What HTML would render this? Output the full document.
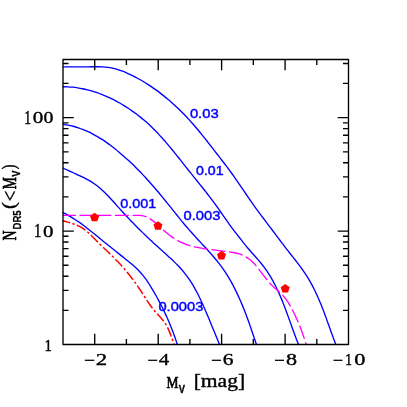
<!DOCTYPE html><html><head><meta charset="utf-8"><style>html,body{margin:0;padding:0;background:#fff}svg{display:block;will-change:transform;opacity:0.999}</style></head><body>
<svg width="407" height="407" viewBox="0 0 407 407">
<rect width="407" height="407" fill="#fff"/>
<g fill="none" stroke="#0000ff" stroke-width="1.35" stroke-linejoin="round">
<path d="M62.70,66.80 L88.00,66.81 C88.82,66.80 91.28,66.79 92.92,66.79 C94.56,66.78 96.20,66.76 97.84,66.79 C99.47,66.81 101.11,66.84 102.74,66.93 C104.36,67.02 105.99,67.14 107.60,67.35 C109.21,67.55 110.81,67.82 112.41,68.15 C114.00,68.49 115.58,68.91 117.14,69.38 C118.71,69.85 120.27,70.39 121.81,70.96 C123.36,71.53 124.89,72.16 126.41,72.82 C127.93,73.47 129.44,74.17 130.93,74.89 C132.43,75.60 133.91,76.36 135.38,77.13 C136.85,77.90 138.30,78.70 139.74,79.52 C141.18,80.33 142.60,81.17 144.02,82.02 C145.43,82.87 146.82,83.74 148.20,84.63 C149.58,85.52 150.95,86.43 152.30,87.35 C153.66,88.27 154.99,89.22 156.32,90.17 C157.64,91.13 158.96,92.10 160.25,93.09 C161.55,94.08 162.84,95.09 164.11,96.11 C165.38,97.13 166.64,98.16 167.89,99.22 C169.13,100.27 170.36,101.33 171.59,102.41 C172.81,103.49 174.01,104.59 175.21,105.70 C176.41,106.80 177.59,107.93 178.76,109.06 C179.93,110.19 181.09,111.34 182.24,112.50 C183.39,113.67 184.53,114.84 185.66,116.02 C186.78,117.21 187.90,118.41 189.00,119.62 C190.10,120.83 191.20,122.05 192.28,123.28 C193.36,124.51 194.44,125.75 195.50,127.00 C196.57,128.25 197.62,129.51 198.67,130.77 C199.72,132.04 200.77,133.31 201.80,134.59 C202.84,135.86 203.87,137.15 204.89,138.44 C205.92,139.72 206.93,141.02 207.95,142.31 C208.97,143.60 209.98,144.90 210.99,146.20 C212.00,147.50 213.00,148.80 214.01,150.10 C215.01,151.40 216.02,152.70 217.02,154.00 C218.02,155.29 219.03,156.59 220.03,157.88 C221.03,159.18 222.04,160.47 223.04,161.76 C224.03,163.05 225.03,164.35 226.02,165.65 C227.01,166.94 228.00,168.25 228.97,169.56 C229.94,170.87 230.90,172.19 231.86,173.52 C232.81,174.84 233.76,176.18 234.70,177.52 C235.63,178.86 236.57,180.20 237.49,181.55 C238.42,182.90 239.35,184.26 240.27,185.61 C241.19,186.96 242.11,188.32 243.03,189.68 C243.95,191.03 244.87,192.39 245.79,193.75 C246.71,195.10 247.64,196.46 248.56,197.81 C249.49,199.16 250.42,200.51 251.36,201.85 C252.30,203.20 253.25,204.54 254.20,205.87 C255.15,207.20 256.12,208.53 257.08,209.86 C258.05,211.18 259.02,212.50 259.99,213.81 C260.97,215.13 261.95,216.44 262.94,217.75 C263.92,219.06 264.91,220.37 265.89,221.68 C266.88,222.99 267.87,224.29 268.86,225.60 C269.85,226.90 270.85,228.20 271.83,229.51 C272.82,230.81 273.81,232.12 274.80,233.43 C275.79,234.74 276.77,236.05 277.75,237.35 C278.73,238.66 279.71,239.98 280.70,241.29 C281.68,242.59 282.66,243.90 283.66,245.21 C284.65,246.51 285.64,247.81 286.65,249.11 C287.65,250.40 288.67,251.69 289.68,252.97 C290.70,254.26 291.72,255.54 292.74,256.82 C293.76,258.11 294.78,259.39 295.79,260.68 C296.80,261.97 297.80,263.27 298.79,264.57 C299.78,265.88 300.76,267.19 301.71,268.52 C302.66,269.85 303.60,271.19 304.51,272.54 C305.42,273.90 306.31,275.28 307.17,276.67 C308.03,278.06 308.87,279.46 309.69,280.88 C310.50,282.30 311.30,283.74 312.07,285.18 C312.84,286.63 313.59,288.09 314.32,289.55 C315.05,291.02 315.76,292.50 316.45,293.99 C317.14,295.47 317.81,296.97 318.47,298.47 C319.13,299.98 319.76,301.49 320.39,303.00 C321.02,304.52 321.62,306.04 322.23,307.57 C322.83,309.09 323.41,310.63 323.99,312.16 C324.57,313.70 325.14,315.24 325.71,316.78 C326.28,318.32 326.83,319.86 327.39,321.41 C327.95,322.95 328.50,324.50 329.05,326.04 C329.60,327.59 330.15,329.13 330.71,330.68 C331.26,332.22 331.81,333.77 332.37,335.30 C332.93,336.84 333.49,338.38 334.06,339.91 C334.64,341.45 335.51,343.74 335.80,344.50"/>
<path d="M62.70,86.70 C63.54,86.72 66.06,86.74 67.73,86.82 C69.40,86.90 71.06,87.03 72.72,87.20 C74.38,87.38 76.03,87.59 77.68,87.84 C79.32,88.09 80.96,88.39 82.59,88.72 C84.22,89.05 85.84,89.42 87.45,89.83 C89.06,90.23 90.67,90.68 92.26,91.15 C93.86,91.63 95.44,92.14 97.01,92.68 C98.59,93.23 100.15,93.80 101.70,94.41 C103.25,95.01 104.79,95.65 106.32,96.32 C107.85,96.98 109.37,97.67 110.87,98.39 C112.37,99.11 113.86,99.86 115.34,100.63 C116.82,101.41 118.28,102.21 119.73,103.03 C121.18,103.85 122.61,104.70 124.04,105.57 C125.46,106.44 126.86,107.34 128.26,108.26 C129.65,109.18 131.03,110.12 132.39,111.08 C133.75,112.04 135.10,113.03 136.43,114.04 C137.76,115.04 139.07,116.07 140.37,117.11 C141.67,118.16 142.95,119.23 144.22,120.31 C145.48,121.39 146.73,122.50 147.96,123.62 C149.19,124.74 150.41,125.88 151.60,127.03 C152.80,128.18 153.98,129.35 155.15,130.54 C156.31,131.72 157.46,132.92 158.60,134.14 C159.74,135.35 160.86,136.58 161.97,137.81 C163.09,139.05 164.19,140.30 165.28,141.55 C166.37,142.81 167.45,144.08 168.52,145.35 C169.60,146.63 170.66,147.91 171.72,149.20 C172.78,150.48 173.83,151.78 174.88,153.08 C175.93,154.38 176.97,155.68 178.01,156.99 C179.05,158.29 180.08,159.60 181.12,160.91 C182.15,162.22 183.19,163.53 184.22,164.84 C185.26,166.15 186.29,167.46 187.33,168.77 C188.36,170.08 189.40,171.38 190.44,172.68 C191.48,173.99 192.53,175.29 193.57,176.58 C194.62,177.88 195.66,179.18 196.71,180.47 C197.75,181.77 198.79,183.07 199.84,184.37 C200.88,185.66 201.92,186.96 202.95,188.26 C203.99,189.57 205.02,190.87 206.05,192.18 C207.07,193.49 208.10,194.80 209.11,196.12 C210.12,197.44 211.13,198.76 212.13,200.09 C213.13,201.42 214.12,202.75 215.11,204.10 C216.09,205.44 217.06,206.80 218.03,208.15 C218.99,209.51 219.95,210.88 220.90,212.25 C221.86,213.61 222.81,214.99 223.76,216.35 C224.71,217.72 225.66,219.10 226.62,220.46 C227.58,221.83 228.55,223.19 229.52,224.55 C230.49,225.90 231.47,227.25 232.47,228.59 C233.47,229.93 234.48,231.26 235.50,232.58 C236.52,233.90 237.55,235.21 238.59,236.52 C239.62,237.83 240.65,239.14 241.69,240.44 C242.72,241.75 243.74,243.06 244.78,244.35 C245.82,245.65 246.86,246.94 247.92,248.21 C248.99,249.48 250.07,250.73 251.17,251.98 C252.26,253.22 253.39,254.44 254.50,255.68 C255.61,256.92 256.73,258.15 257.81,259.41 C258.90,260.67 259.98,261.94 261.03,263.24 C262.08,264.53 263.11,265.84 264.10,267.17 C265.10,268.51 266.06,269.86 266.99,271.23 C267.92,272.60 268.81,274.00 269.68,275.40 C270.55,276.81 271.39,278.24 272.21,279.68 C273.02,281.12 273.81,282.58 274.57,284.06 C275.34,285.53 276.08,287.02 276.80,288.51 C277.52,290.01 278.22,291.52 278.91,293.04 C279.59,294.56 280.25,296.09 280.90,297.63 C281.55,299.17 282.19,300.72 282.81,302.27 C283.43,303.83 284.04,305.39 284.64,306.95 C285.24,308.52 285.83,310.09 286.41,311.66 C287.00,313.24 287.57,314.81 288.14,316.39 C288.71,317.97 289.28,319.54 289.84,321.12 C290.41,322.70 290.97,324.28 291.53,325.85 C292.10,327.42 292.66,329.00 293.23,330.56 C293.79,332.13 294.36,333.69 294.94,335.25 C295.52,336.81 296.10,338.36 296.69,339.90 C297.29,341.44 298.20,343.73 298.50,344.50"/>
<path d="M62.70,124.20 C63.59,124.34 66.27,124.71 68.03,125.05 C69.79,125.39 71.52,125.80 73.23,126.25 C74.95,126.70 76.64,127.22 78.31,127.77 C79.99,128.33 81.64,128.94 83.27,129.60 C84.91,130.25 86.52,130.95 88.12,131.70 C89.72,132.44 91.29,133.23 92.85,134.05 C94.41,134.87 95.95,135.74 97.48,136.63 C99.00,137.53 100.51,138.46 102.00,139.42 C103.49,140.38 104.96,141.38 106.42,142.39 C107.88,143.41 109.32,144.46 110.74,145.52 C112.17,146.59 113.57,147.68 114.97,148.79 C116.36,149.90 117.74,151.03 119.11,152.17 C120.47,153.31 121.82,154.47 123.16,155.64 C124.50,156.81 125.82,158.00 127.13,159.20 C128.44,160.39 129.74,161.61 131.03,162.83 C132.31,164.05 133.59,165.29 134.85,166.53 C136.11,167.78 137.36,169.04 138.60,170.31 C139.84,171.58 141.07,172.85 142.29,174.14 C143.51,175.43 144.71,176.73 145.91,178.04 C147.11,179.34 148.30,180.66 149.49,181.98 C150.67,183.30 151.84,184.63 153.01,185.97 C154.17,187.31 155.33,188.65 156.48,190.00 C157.63,191.35 158.77,192.71 159.91,194.07 C161.05,195.43 162.18,196.80 163.30,198.17 C164.43,199.54 165.54,200.92 166.66,202.30 C167.77,203.67 168.88,205.06 169.99,206.44 C171.09,207.82 172.19,209.21 173.29,210.60 C174.40,211.98 175.49,213.37 176.60,214.75 C177.71,216.13 178.81,217.52 179.93,218.89 C181.04,220.26 182.16,221.64 183.29,223.00 C184.42,224.36 185.57,225.71 186.72,227.06 C187.87,228.40 189.04,229.74 190.21,231.07 C191.39,232.40 192.58,233.72 193.77,235.03 C194.96,236.35 196.16,237.66 197.37,238.97 C198.58,240.28 199.79,241.58 201.00,242.88 C202.22,244.19 203.43,245.49 204.64,246.80 C205.85,248.11 207.06,249.41 208.25,250.73 C209.45,252.05 210.63,253.37 211.80,254.71 C212.97,256.05 214.13,257.39 215.26,258.75 C216.39,260.11 217.51,261.49 218.60,262.88 C219.68,264.27 220.75,265.68 221.78,267.11 C222.81,268.54 223.82,269.99 224.79,271.46 C225.77,272.93 226.72,274.41 227.65,275.91 C228.57,277.41 229.47,278.93 230.35,280.46 C231.23,282.00 232.08,283.54 232.92,285.10 C233.75,286.66 234.56,288.24 235.35,289.83 C236.14,291.41 236.91,293.01 237.66,294.62 C238.42,296.22 239.15,297.84 239.87,299.47 C240.58,301.10 241.28,302.74 241.97,304.38 C242.66,306.02 243.33,307.68 243.98,309.33 C244.64,310.99 245.28,312.65 245.92,314.32 C246.55,315.99 247.17,317.66 247.78,319.34 C248.39,321.01 248.99,322.69 249.59,324.37 C250.18,326.05 250.76,327.73 251.34,329.41 C251.92,331.09 252.49,332.77 253.05,334.45 C253.62,336.13 254.18,337.81 254.74,339.48 C255.29,341.16 256.12,343.66 256.40,344.50"/>
<path d="M62.70,167.90 C63.41,168.23 65.53,169.23 66.97,169.88 C68.41,170.54 69.86,171.18 71.31,171.83 C72.77,172.47 74.23,173.11 75.68,173.77 C77.14,174.43 78.60,175.09 80.04,175.78 C81.48,176.46 82.92,177.16 84.34,177.88 C85.76,178.61 87.16,179.36 88.54,180.14 C89.91,180.93 91.27,181.74 92.59,182.60 C93.90,183.47 95.19,184.37 96.45,185.31 C97.70,186.26 98.92,187.25 100.11,188.27 C101.31,189.29 102.47,190.36 103.62,191.44 C104.76,192.53 105.88,193.65 106.99,194.78 C108.10,195.91 109.19,197.07 110.27,198.24 C111.35,199.40 112.42,200.59 113.49,201.77 C114.55,202.96 115.61,204.16 116.67,205.35 C117.73,206.54 118.79,207.73 119.85,208.91 C120.92,210.10 121.99,211.27 123.06,212.44 C124.14,213.61 125.22,214.78 126.30,215.93 C127.38,217.09 128.47,218.24 129.56,219.39 C130.66,220.54 131.75,221.68 132.86,222.81 C133.96,223.94 135.06,225.07 136.18,226.20 C137.29,227.32 138.40,228.44 139.53,229.55 C140.65,230.66 141.77,231.77 142.90,232.87 C144.04,233.97 145.17,235.07 146.31,236.16 C147.45,237.26 148.60,238.34 149.75,239.43 C150.90,240.51 152.06,241.59 153.22,242.66 C154.38,243.74 155.55,244.80 156.72,245.87 C157.89,246.94 159.07,248.00 160.25,249.05 C161.43,250.11 162.63,251.17 163.81,252.22 C165.00,253.28 166.18,254.33 167.36,255.40 C168.54,256.46 169.72,257.53 170.88,258.61 C172.04,259.69 173.20,260.77 174.33,261.88 C175.47,262.98 176.59,264.10 177.69,265.24 C178.79,266.38 179.87,267.53 180.92,268.72 C181.96,269.90 182.99,271.11 183.98,272.34 C184.98,273.57 185.95,274.82 186.89,276.10 C187.83,277.37 188.74,278.67 189.63,279.98 C190.51,281.29 191.37,282.63 192.20,283.97 C193.04,285.32 193.84,286.68 194.62,288.06 C195.41,289.43 196.16,290.82 196.89,292.22 C197.63,293.61 198.33,295.02 199.03,296.44 C199.72,297.86 200.40,299.28 201.06,300.71 C201.73,302.14 202.37,303.58 203.02,305.03 C203.66,306.47 204.29,307.92 204.92,309.37 C205.55,310.82 206.18,312.27 206.80,313.73 C207.42,315.18 208.03,316.64 208.65,318.10 C209.26,319.56 209.87,321.03 210.48,322.49 C211.08,323.96 211.69,325.42 212.29,326.89 C212.90,328.36 213.50,329.82 214.10,331.29 C214.70,332.76 215.30,334.23 215.90,335.70 C216.50,337.16 217.10,338.63 217.70,340.10 C218.30,341.57 219.20,343.77 219.50,344.50"/>
<path d="M62.70,212.40 C63.43,212.78 65.62,213.88 67.05,214.66 C68.48,215.44 69.89,216.26 71.28,217.10 C72.67,217.93 74.03,218.80 75.39,219.69 C76.74,220.58 78.07,221.49 79.40,222.42 C80.72,223.35 82.03,224.31 83.32,225.27 C84.62,226.23 85.91,227.22 87.19,228.21 C88.46,229.20 89.73,230.20 91.00,231.21 C92.26,232.22 93.52,233.25 94.77,234.27 C96.03,235.29 97.28,236.32 98.53,237.35 C99.79,238.38 101.04,239.41 102.29,240.43 C103.55,241.46 104.80,242.48 106.06,243.50 C107.32,244.52 108.58,245.54 109.84,246.55 C111.11,247.56 112.37,248.58 113.64,249.59 C114.90,250.60 116.17,251.61 117.44,252.61 C118.71,253.62 119.98,254.63 121.24,255.64 C122.51,256.65 123.78,257.65 125.05,258.67 C126.32,259.68 127.59,260.69 128.84,261.72 C130.09,262.74 131.34,263.77 132.56,264.83 C133.78,265.89 134.98,266.96 136.15,268.07 C137.32,269.18 138.46,270.31 139.56,271.48 C140.66,272.65 141.72,273.86 142.73,275.11 C143.75,276.36 144.72,277.66 145.66,278.97 C146.61,280.28 147.51,281.64 148.41,282.99 C149.30,284.35 150.17,285.73 151.03,287.11 C151.88,288.49 152.72,289.89 153.55,291.29 C154.38,292.70 155.19,294.11 155.98,295.53 C156.78,296.95 157.56,298.38 158.33,299.81 C159.10,301.25 159.86,302.69 160.60,304.13 C161.34,305.58 162.07,307.02 162.79,308.48 C163.51,309.93 164.21,311.39 164.90,312.85 C165.59,314.32 166.27,315.79 166.93,317.26 C167.59,318.74 168.24,320.22 168.87,321.70 C169.51,323.19 170.13,324.68 170.73,326.18 C171.34,327.68 171.93,329.19 172.51,330.70 C173.09,332.21 173.65,333.73 174.20,335.26 C174.74,336.78 175.28,338.31 175.79,339.86 C176.31,341.40 177.05,343.73 177.30,344.50"/>
</g>
<path d="M62.70,215.40 L128.00,215.40 C128.65,215.40 130.59,215.42 131.88,215.42 C133.18,215.41 134.48,215.38 135.78,215.38 C137.08,215.38 138.40,215.31 139.67,215.39 C140.94,215.48 142.21,215.60 143.41,215.88 C144.62,216.16 145.78,216.58 146.92,217.08 C148.05,217.58 149.14,218.20 150.22,218.88 C151.29,219.55 152.33,220.32 153.36,221.12 C154.39,221.92 155.39,222.80 156.40,223.68 C157.40,224.57 158.38,225.50 159.37,226.42 C160.36,227.33 161.34,228.27 162.33,229.18 C163.32,230.08 164.31,230.98 165.31,231.83 C166.32,232.69 167.33,233.52 168.36,234.32 C169.38,235.12 170.42,235.89 171.47,236.62 C172.52,237.36 173.58,238.07 174.66,238.74 C175.73,239.41 176.82,240.06 177.93,240.66 C179.04,241.27 180.16,241.85 181.30,242.39 C182.44,242.93 183.59,243.43 184.77,243.90 C185.95,244.38 187.14,244.81 188.36,245.21 C189.58,245.61 190.82,245.97 192.07,246.30 C193.32,246.63 194.60,246.92 195.88,247.20 C197.17,247.47 198.47,247.71 199.77,247.94 C201.08,248.17 202.39,248.37 203.71,248.56 C205.02,248.76 206.34,248.93 207.66,249.11 C208.97,249.28 210.29,249.44 211.59,249.61 C212.89,249.77 214.19,249.93 215.48,250.10 C216.76,250.27 218.03,250.44 219.30,250.62 C220.56,250.80 221.81,250.98 223.07,251.16 C224.33,251.33 225.58,251.50 226.85,251.67 C228.12,251.83 229.41,251.96 230.69,252.14 C231.97,252.32 233.26,252.48 234.54,252.73 C235.81,252.97 237.10,253.25 238.35,253.62 C239.60,253.98 240.84,254.42 242.04,254.93 C243.24,255.43 244.42,256.01 245.53,256.65 C246.65,257.29 247.72,257.99 248.75,258.75 C249.77,259.50 250.74,260.33 251.69,261.18 C252.63,262.04 253.52,262.95 254.40,263.88 C255.28,264.82 256.12,265.79 256.95,266.79 C257.78,267.78 258.58,268.81 259.38,269.84 C260.18,270.87 260.96,271.93 261.75,272.98 C262.54,274.03 263.31,275.09 264.11,276.14 C264.90,277.19 265.69,278.24 266.51,279.26 C267.32,280.29 268.15,281.30 269.00,282.28 C269.86,283.26 270.74,284.22 271.65,285.15 C272.56,286.07 273.52,286.94 274.47,287.81 C275.43,288.67 276.42,289.50 277.39,290.35 C278.36,291.20 279.35,292.04 280.28,292.91 C281.22,293.79 282.15,294.67 283.02,295.61 C283.89,296.56 284.71,297.54 285.49,298.56 C286.28,299.58 287.01,300.65 287.72,301.74 C288.43,302.82 289.10,303.94 289.76,305.07 C290.41,306.19 291.04,307.34 291.66,308.48 C292.27,309.63 292.87,310.79 293.46,311.95 C294.04,313.11 294.61,314.28 295.17,315.45 C295.72,316.62 296.26,317.80 296.79,318.98 C297.32,320.17 297.83,321.36 298.33,322.55 C298.83,323.75 299.32,324.95 299.80,326.15 C300.27,327.36 300.74,328.56 301.19,329.78 C301.65,330.99 302.09,332.21 302.53,333.43 C302.96,334.65 303.39,335.87 303.80,337.10 C304.22,338.33 304.63,339.56 305.03,340.79 C305.42,342.02 306.00,343.88 306.20,344.50" fill="none" stroke="#ff00ff" stroke-width="1.35" stroke-dasharray="14.1 3.6" stroke-dashoffset="0.9"/>
<path d="M62.70,220.70 C63.41,220.89 65.52,221.43 66.94,221.83 C68.35,222.23 69.78,222.65 71.18,223.11 C72.58,223.58 73.99,224.07 75.35,224.62 C76.72,225.17 78.07,225.76 79.37,226.42 C80.67,227.08 81.94,227.80 83.15,228.59 C84.36,229.38 85.51,230.25 86.63,231.17 C87.75,232.08 88.81,233.08 89.86,234.09 C90.92,235.09 91.93,236.16 92.96,237.20 C93.99,238.24 95.01,239.30 96.04,240.34 C97.08,241.38 98.12,242.40 99.17,243.43 C100.22,244.46 101.27,245.47 102.32,246.49 C103.38,247.51 104.44,248.52 105.49,249.54 C106.55,250.55 107.61,251.56 108.66,252.58 C109.71,253.60 110.76,254.62 111.80,255.64 C112.85,256.67 113.88,257.69 114.91,258.73 C115.94,259.77 116.96,260.81 117.96,261.87 C118.97,262.93 119.96,264.00 120.94,265.07 C121.93,266.15 122.89,267.24 123.85,268.34 C124.81,269.44 125.75,270.55 126.68,271.68 C127.61,272.80 128.53,273.93 129.44,275.07 C130.35,276.22 131.24,277.37 132.12,278.53 C133.01,279.69 133.88,280.87 134.73,282.05 C135.59,283.23 136.44,284.42 137.27,285.63 C138.11,286.83 138.93,288.04 139.74,289.26 C140.55,290.48 141.34,291.71 142.14,292.94 C142.94,294.17 143.72,295.41 144.51,296.64 C145.30,297.88 146.09,299.11 146.90,300.33 C147.71,301.55 148.52,302.77 149.35,303.97 C150.19,305.17 151.04,306.36 151.92,307.52 C152.80,308.68 153.71,309.82 154.65,310.94 C155.59,312.06 156.58,313.14 157.55,314.22 C158.53,315.31 159.54,316.37 160.50,317.46 C161.46,318.55 162.43,319.63 163.31,320.77 C164.19,321.91 165.04,323.08 165.80,324.30 C166.56,325.52 167.23,326.81 167.86,328.12 C168.49,329.42 169.05,330.78 169.60,332.14 C170.15,333.50 170.65,334.90 171.17,336.28 C171.69,337.67 172.18,339.07 172.72,340.44 C173.26,341.81 174.12,343.82 174.40,344.50" fill="none" stroke="#ff0000" stroke-width="1.45" stroke-dasharray="10 2.4 2.4 2.4" stroke-dashoffset="2.3"/>
<polygon points="94.60,212.75 99.12,216.03 97.39,221.34 91.81,221.34 90.08,216.03" fill="#ff0000"/>
<polygon points="158.00,221.25 162.52,224.53 160.79,229.84 155.21,229.84 153.48,224.53" fill="#ff0000"/>
<polygon points="221.50,250.85 226.02,254.13 224.29,259.44 218.71,259.44 216.98,254.13" fill="#ff0000"/>
<polygon points="285.20,283.95 289.72,287.23 287.99,292.54 282.41,292.54 280.68,287.23" fill="#ff0000"/>
<g stroke="#000" stroke-width="1.35" fill="none" stroke-linecap="butt" stroke-linejoin="round">
<rect x="63.0" y="59.5" width="285.5" height="285.0"/>
<path d="M94.7,344.5v-10.8M94.7,59.5v10.8"/>
<path d="M126.4,344.5v-5.5M126.4,59.5v5.5"/>
<path d="M158.2,344.5v-10.8M158.2,59.5v10.8"/>
<path d="M189.9,344.5v-5.5M189.9,59.5v5.5"/>
<path d="M221.6,344.5v-10.8M221.6,59.5v10.8"/>
<path d="M253.3,344.5v-5.5M253.3,59.5v5.5"/>
<path d="M285.1,344.5v-10.8M285.1,59.5v10.8"/>
<path d="M316.8,344.5v-5.5M316.8,59.5v5.5"/>
<path d="M63.0,310.3h5.5M348.5,310.3h-5.5"/>
<path d="M63.0,290.4h5.5M348.5,290.4h-5.5"/>
<path d="M63.0,276.2h5.5M348.5,276.2h-5.5"/>
<path d="M63.0,265.2h5.5M348.5,265.2h-5.5"/>
<path d="M63.0,256.2h5.5M348.5,256.2h-5.5"/>
<path d="M63.0,248.6h5.5M348.5,248.6h-5.5"/>
<path d="M63.0,242.0h5.5M348.5,242.0h-5.5"/>
<path d="M63.0,236.2h5.5M348.5,236.2h-5.5"/>
<path d="M63.0,231.1h10.8M348.5,231.1h-10.8"/>
<path d="M63.0,196.9h5.5M348.5,196.9h-5.5"/>
<path d="M63.0,176.9h5.5M348.5,176.9h-5.5"/>
<path d="M63.0,162.7h5.5M348.5,162.7h-5.5"/>
<path d="M63.0,151.8h5.5M348.5,151.8h-5.5"/>
<path d="M63.0,142.8h5.5M348.5,142.8h-5.5"/>
<path d="M63.0,135.2h5.5M348.5,135.2h-5.5"/>
<path d="M63.0,128.6h5.5M348.5,128.6h-5.5"/>
<path d="M63.0,122.8h5.5M348.5,122.8h-5.5"/>
<path d="M63.0,117.6h10.8M348.5,117.6h-10.8"/>
<path d="M63.0,83.4h5.5M348.5,83.4h-5.5"/>
<path d="M63.0,63.5h5.5M348.5,63.5h-5.5"/>
</g>
<path d="M84.8,360.3H94.3" stroke="#000" stroke-width="1.25" fill="none"/>
<text transform="translate(95.63,365.40) scale(0.2286,0.1721)" font-size="100" font-family='"Liberation Serif",serif' font-weight="normal" fill="#000" stroke="#000" stroke-width="2.10" stroke-linejoin="round">2</text>
<path d="M148.2,360.3H157.2" stroke="#000" stroke-width="1.25" fill="none"/>
<text transform="translate(158.78,365.40) scale(0.2086,0.1734)" font-size="100" font-family='"Liberation Serif",serif' font-weight="normal" fill="#000" stroke="#000" stroke-width="2.20" stroke-linejoin="round">4</text>
<path d="M211.8,360.3H221.0" stroke="#000" stroke-width="1.25" fill="none"/>
<text transform="translate(222.69,365.23) scale(0.2152,0.1695)" font-size="100" font-family='"Liberation Serif",serif' font-weight="normal" fill="#000" stroke="#000" stroke-width="2.18" stroke-linejoin="round">6</text>
<path d="M275.0,360.3H284.0" stroke="#000" stroke-width="1.25" fill="none"/>
<text transform="translate(285.97,365.23) scale(0.2212,0.1689)" font-size="100" font-family='"Liberation Serif",serif' font-weight="normal" fill="#000" stroke="#000" stroke-width="2.15" stroke-linejoin="round">8</text>
<path d="M333.5,360.3H342.5" stroke="#000" stroke-width="1.25" fill="none"/>
<text transform="translate(345.13,365.40) scale(0.1333,0.1727)" font-size="100" font-family='"Liberation Serif",serif' font-weight="normal" fill="#000" stroke="#000" stroke-width="2.74" stroke-linejoin="round">1</text>
<text transform="translate(354.16,365.23) scale(0.2235,0.1689)" font-size="100" font-family='"Liberation Serif",serif' font-weight="normal" fill="#000" stroke="#000" stroke-width="2.14" stroke-linejoin="round">0</text>
<text transform="translate(24.21,123.50) scale(0.1362,0.1788)" font-size="100" font-family='"Liberation Serif",serif' font-weight="normal" fill="#000" stroke="#000" stroke-width="2.67" stroke-linejoin="round">1</text>
<text transform="translate(32.71,123.33) scale(0.2118,0.1748)" font-size="100" font-family='"Liberation Serif",serif' font-weight="normal" fill="#000" stroke="#000" stroke-width="2.17" stroke-linejoin="round">0</text>
<text transform="translate(43.56,123.33) scale(0.1976,0.1748)" font-size="100" font-family='"Liberation Serif",serif' font-weight="normal" fill="#000" stroke="#000" stroke-width="2.26" stroke-linejoin="round">0</text>
<text transform="translate(34.01,236.90) scale(0.1475,0.1788)" font-size="100" font-family='"Liberation Serif",serif' font-weight="normal" fill="#000" stroke="#000" stroke-width="2.57" stroke-linejoin="round">1</text>
<text transform="translate(43.11,236.73) scale(0.2094,0.1748)" font-size="100" font-family='"Liberation Serif",serif' font-weight="normal" fill="#000" stroke="#000" stroke-width="2.19" stroke-linejoin="round">0</text>
<text transform="translate(44.51,350.80) scale(0.1475,0.1773)" font-size="100" font-family='"Liberation Serif",serif' font-weight="normal" fill="#000" stroke="#000" stroke-width="2.59" stroke-linejoin="round">1</text>
<text transform="translate(166.43,387.70) scale(0.1345,0.1710)" font-size="100" font-family='"Liberation Serif",serif' font-weight="normal" fill="#000" stroke="#000" stroke-width="3.93" stroke-linejoin="round">M</text>
<text transform="translate(178.83,392.80) scale(0.0935,0.1091)" font-size="100" font-family='"Liberation Sans",sans-serif' font-weight="bold" fill="#000" stroke="#000" stroke-width="2.96" stroke-linejoin="round">V</text>
<text transform="translate(193.68,387.31) scale(0.2156,0.1857)" font-size="100" font-family='"Liberation Serif",serif' font-weight="normal" fill="#000" stroke="#000" stroke-width="2.09" stroke-linejoin="round">[mag]</text>
<g transform="translate(15.7,240.4) rotate(-90)">
<text transform="translate(-0.18,0.00) scale(0.1398,0.1817)" font-size="100" font-family='"Liberation Serif",serif' font-weight="normal" fill="#000" stroke="#000" stroke-width="3.73" stroke-linejoin="round">N</text>
<text transform="translate(10.85,5.00) scale(0.0961,0.1047)" font-size="100" font-family='"Liberation Sans",sans-serif' font-weight="bold" fill="#000" stroke="#000" stroke-width="1.99" stroke-linejoin="round">DR5</text>
<text transform="translate(31.33,-0.71) scale(0.2058,0.1840)" font-size="100" font-family='"Liberation Serif",serif' font-weight="normal" fill="#000" stroke="#000" stroke-width="2.15" stroke-linejoin="round">(</text>
<text transform="translate(39.16,1.43) scale(0.1871,0.2031)" font-size="100" font-family='"Liberation Serif",serif' font-weight="normal" fill="#000" stroke="#000" stroke-width="2.15" stroke-linejoin="round">&lt;</text>
<text transform="translate(51.13,0.00) scale(0.1357,0.1817)" font-size="100" font-family='"Liberation Serif",serif' font-weight="normal" fill="#000" stroke="#000" stroke-width="3.78" stroke-linejoin="round">M</text>
<text transform="translate(63.73,4.30) scale(0.0935,0.1004)" font-size="100" font-family='"Liberation Sans",sans-serif' font-weight="bold" fill="#000" stroke="#000" stroke-width="3.10" stroke-linejoin="round">V</text>
<text transform="translate(71.25,-0.71) scale(0.1398,0.1840)" font-size="100" font-family='"Liberation Serif",serif' font-weight="normal" fill="#000" stroke="#000" stroke-width="2.59" stroke-linejoin="round">)</text>
</g>
<text transform="translate(189.91,117.67) scale(0.1477,0.1300)" font-size="100" font-family='"Liberation Sans",sans-serif' font-weight="normal" fill="#0000ff" stroke="#0000ff" stroke-width="3.24" stroke-linejoin="round">0.03</text>
<text transform="translate(196.03,174.67) scale(0.1416,0.1300)" font-size="100" font-family='"Liberation Sans",sans-serif' font-weight="normal" fill="#0000ff" stroke="#0000ff" stroke-width="3.31" stroke-linejoin="round">0.01</text>
<text transform="translate(183.51,219.57) scale(0.1475,0.1300)" font-size="100" font-family='"Liberation Sans",sans-serif' font-weight="normal" fill="#0000ff" stroke="#0000ff" stroke-width="3.24" stroke-linejoin="round">0.003</text>
<text transform="translate(120.23,208.47) scale(0.1437,0.1300)" font-size="100" font-family='"Liberation Sans",sans-serif' font-weight="normal" fill="#0000ff" stroke="#0000ff" stroke-width="3.29" stroke-linejoin="round">0.001</text>
<text transform="translate(158.41,311.07) scale(0.1472,0.1329)" font-size="100" font-family='"Liberation Sans",sans-serif' font-weight="normal" fill="#0000ff" stroke="#0000ff" stroke-width="3.21" stroke-linejoin="round">0.0003</text>
</svg></body></html>
